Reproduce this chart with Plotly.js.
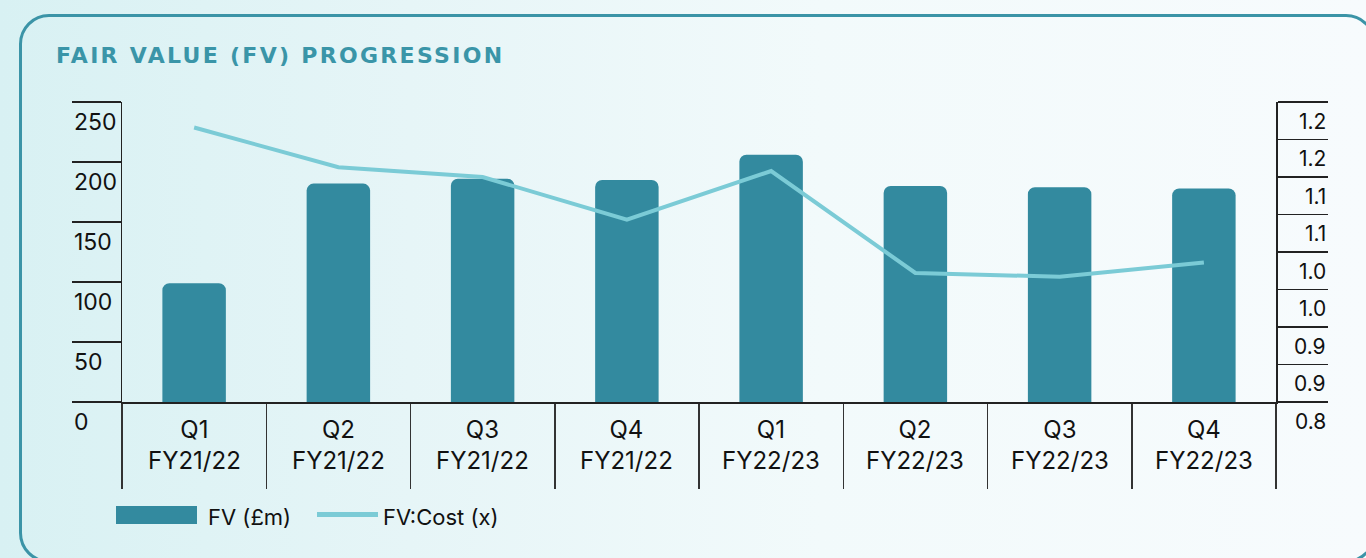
<!DOCTYPE html>
<html>
<head>
<meta charset="utf-8">
<script src="https://cdn.plot.ly/plotly-3.0.1.min.js"></script>
<style>
  html, body { margin: 0; padding: 0; width: 1366px; height: 558px; overflow: hidden; }
  body { background: linear-gradient(90deg, #d8f1f3 0%, #e6f5f7 30%, #f2fafb 60%, #f7fbfd 100%); position: relative; }
  #frame { position: absolute; left: 19px; top: 14px; width: 1357px; height: 549px; box-sizing: border-box;
           border: 3px solid #3b94a7; border-radius: 30px; z-index: 0; }
  #chart { position: absolute; left: 0; top: 0; width: 1366px; height: 558px; z-index: 1; }
  #chart .gtitle { letter-spacing: 2.3px; }
</style>
</head>
<body>
<div id="frame"></div>
<div id="chart"></div>
<script>
// ---- data ----
const quarters = ['Q1', 'Q2', 'Q3', 'Q4', 'Q1', 'Q2', 'Q3', 'Q4'];
const fiscalYears = ['FY21/22', 'FY21/22', 'FY21/22', 'FY21/22', 'FY22/23', 'FY22/23', 'FY22/23', 'FY22/23'];
const fvValues = [99, 182, 186, 185, 206, 180, 179, 178];           // FV (£m)
const fvCostValues = [1.166, 1.113, 1.100, 1.043, 1.108, 0.972, 0.967, 0.986]; // FV:Cost (x)
const leftTickVals = [0, 50, 100, 150, 200, 250];
const leftTickText = ['0', '50', '100', '150', '200', '250'];
const rightTickVals = [0.8, 0.85, 0.9, 0.95, 1.0, 1.05, 1.1, 1.15, 1.2];
const rightTickText = ['0.8', '0.9', '0.9', '1.0', '1.0', '1.1', '1.1', '1.2', '1.2'];
const seriesNames = ['FV (£m)', 'FV:Cost (x)'];
const chartTitle = 'FAIR VALUE (FV) PROGRESSION';

// ---- layout helpers ----
const W = 1366, H = 558;
const L = 122, R = 1276, T = 102, B = 402;
const px2x = p => (p - L) / (R - L);
const py2y = p => (B - p) / (B - T);

const FONT = 'Inter, "Open Sans", sans-serif';
const barColor = '#338a9f';
const lineColor = '#7bcbd6';
const axisColor = '#222222';

const categories = quarters.map((q, i) => q + ' ' + fiscalYears[i]);

const traces = [
  {
    type: 'bar', name: seriesNames[0], x: categories, y: fvValues,
    marker: { color: barColor, cornerradius: 7 }, width: 0.44,
    hoverinfo: 'skip', showlegend: false
  },
  {
    type: 'scatter', mode: 'lines', name: seriesNames[1], x: categories, y: fvCostValues,
    yaxis: 'y2', line: { color: lineColor, width: 4 }, hoverinfo: 'skip', showlegend: false
  }
];

const annotations = [];
leftTickVals.forEach((v, i) => annotations.push({
  xref: 'paper', yref: 'y', x: px2x(72), y: v, text: leftTickText[i], showarrow: false,
  xanchor: 'left', yanchor: 'middle', yshift: -20, font: { family: FONT, size: 23, color: '#111' }
}));
rightTickVals.forEach((v, i) => annotations.push({
  xref: 'paper', yref: 'y2', x: px2x(1328), y: v, text: rightTickText[i], showarrow: false,
  xanchor: 'right', yanchor: 'middle', yshift: -19, font: { family: FONT, size: 21, color: '#111' }
}));
categories.forEach((c, i) => annotations.push({
  xref: 'x', yref: 'paper', x: c, y: 0, text: quarters[i] + '<br>' + fiscalYears[i], showarrow: false,
  xanchor: 'center', yanchor: 'top', yshift: -11, font: { family: FONT, size: 24, color: '#111' }
}));
// legend texts
annotations.push({ xref: 'paper', yref: 'paper', x: px2x(206), y: py2y(517), text: seriesNames[0],
  showarrow: false, xanchor: 'left', yanchor: 'middle', font: { family: FONT, size: 22, color: '#111' } });
annotations.push({ xref: 'paper', yref: 'paper', x: px2x(381), y: py2y(517), text: seriesNames[1],
  showarrow: false, xanchor: 'left', yanchor: 'middle', font: { family: FONT, size: 22, color: '#111' } });

const shapes = [
  { type: 'rect', xref: 'paper', yref: 'paper', x0: px2x(116), x1: px2x(197), y0: py2y(506), y1: py2y(524),
    fillcolor: barColor, line: { width: 0 } },
  { type: 'line', xref: 'paper', yref: 'paper', x0: px2x(317), x1: px2x(378), y0: py2y(514.5), y1: py2y(514.5),
    line: { color: lineColor, width: 5 } }
];

const layout = {
  width: W, height: H,
  margin: { l: L, r: W - R, t: T, b: H - B, pad: 0 },
  paper_bgcolor: 'rgba(0,0,0,0)', plot_bgcolor: 'rgba(0,0,0,0)',
  showlegend: false,
  title: {
    text: '<b>' + chartTitle + '</b>', xref: 'container', x: 56 / W, xanchor: 'left',
    yref: 'container', y: 1 - 55 / H, yanchor: 'middle',
    font: { family: '"DejaVu Sans", sans-serif', size: 22, color: '#3a95a8' }
  },
  xaxis: {
    type: 'category', range: [-0.5, 7.5], fixedrange: true,
    showline: true, linecolor: axisColor, linewidth: 1.5,
    ticks: 'outside', tickson: 'boundaries', ticklen: 85, tickwidth: 1.5, tickcolor: '#333',
    showticklabels: false, showgrid: false, zeroline: false
  },
  yaxis: {
    range: [0, 250], tickvals: leftTickVals, showticklabels: false,
    showline: true, linecolor: axisColor, linewidth: 1.5,
    ticks: 'outside', ticklen: 49, tickwidth: 1.5, tickcolor: axisColor,
    showgrid: false, zeroline: false, fixedrange: true
  },
  yaxis2: {
    overlaying: 'y', side: 'right', range: [0.8, 1.2], tickvals: rightTickVals, showticklabels: false,
    showline: true, linecolor: axisColor, linewidth: 1.5,
    ticks: 'outside', ticklen: 50, tickwidth: 1.5, tickcolor: axisColor,
    showgrid: false, zeroline: false, fixedrange: true
  },
  annotations: annotations,
  shapes: shapes
};

Plotly.newPlot('chart', traces, layout, { staticPlot: true, displayModeBar: false });
</script>
</body>
</html>
